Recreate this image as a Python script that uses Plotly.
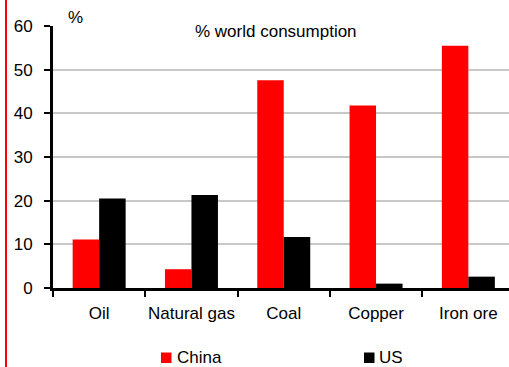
import plotly.graph_objects as go

# Share of world consumption, %
categories = ["Oil", "Natural gas", "Coal", "Copper", "Iron ore"]
china = [11.1, 4.3, 47.6, 41.8, 55.5]
us = [20.5, 21.3, 11.7, 1.0, 2.6]
series_names = ["China", "US"]
series_colors = ["#ff0000", "#000000"]
y_ticks = [0, 10, 20, 30, 40, 50, 60]

W, H = 509, 367
L, R, T, B = 53, 0, 26, 79
PW, PH = W - L - R, H - T - B
FONT = "Liberation Sans, Arial, sans-serif"


def px_x(x):
    return (x - L) / PW


def px_y(y):
    return (H - B - y) / PH


fig = go.Figure()
for name, vals, col in zip(series_names, [china, us], series_colors):
    fig.add_trace(go.Bar(x=categories, y=vals, name=name,
                         marker=dict(color=col, line=dict(width=0)),
                         showlegend=False))

# Hand-placed legend entries
legend_pos = [(161, 175), (364, 377)]
for name, col, (sx, tx) in zip(series_names, series_colors, legend_pos):
    fig.add_shape(type="rect", xref="paper", yref="paper",
                  x0=px_x(sx), x1=px_x(sx + 10.5),
                  y0=px_y(363), y1=px_y(352.5),
                  fillcolor=col, line=dict(width=0))
    fig.add_annotation(text=name, xref="paper", yref="paper",
                       x=px_x(tx), y=px_y(357.5), xanchor="left", yanchor="middle",
                       showarrow=False, font=dict(size=17, color="black", family=FONT))

# Red frame line on the left
fig.add_shape(type="line", xref="paper", yref="paper",
              x0=px_x(6), x1=px_x(6), y0=px_y(H), y1=px_y(0),
              line=dict(color="#ff0000", width=2))

fig.add_annotation(text="%", xref="paper", yref="paper", x=px_x(75), y=px_y(17),
                   xanchor="center", yanchor="middle", showarrow=False,
                   font=dict(size=17, color="black", family=FONT))
fig.add_annotation(text="% world consumption", xref="paper", yref="paper",
                   x=px_x(276), y=px_y(31.5), xanchor="center", yanchor="middle",
                   showarrow=False, font=dict(size=17, color="black", family=FONT))

fig.update_layout(
    width=W, height=H,
    margin=dict(l=L, r=R, t=T, b=B, pad=0, autoexpand=False),
    paper_bgcolor="white", plot_bgcolor="white",
    barmode="group", bargap=0.426, bargroupgap=0,
    font=dict(family=FONT, size=17, color="black"),
    xaxis=dict(type="category", range=[-0.5, -0.5 + PW / 92.3],
               showline=True, linecolor="black", linewidth=3,
               ticks="outside", tickson="boundaries", ticklen=6, tickwidth=2,
               tickcolor="black", showgrid=False, tickangle=0, automargin=False,
               ticklabelstandoff=8,
               tickfont=dict(size=17, color="black", family=FONT)),
    yaxis=dict(range=[0, 60], tickvals=y_ticks, automargin=False,
               showline=True, linecolor="black", linewidth=3,
               ticks="outside", ticklen=6, tickwidth=2, tickcolor="black",
               showgrid=True, gridcolor="#c8c8c8", gridwidth=2, zeroline=False,
               ticklabelstandoff=8,
               tickfont=dict(size=17, color="black", family=FONT)),
)

fig.write_html("out.html")
